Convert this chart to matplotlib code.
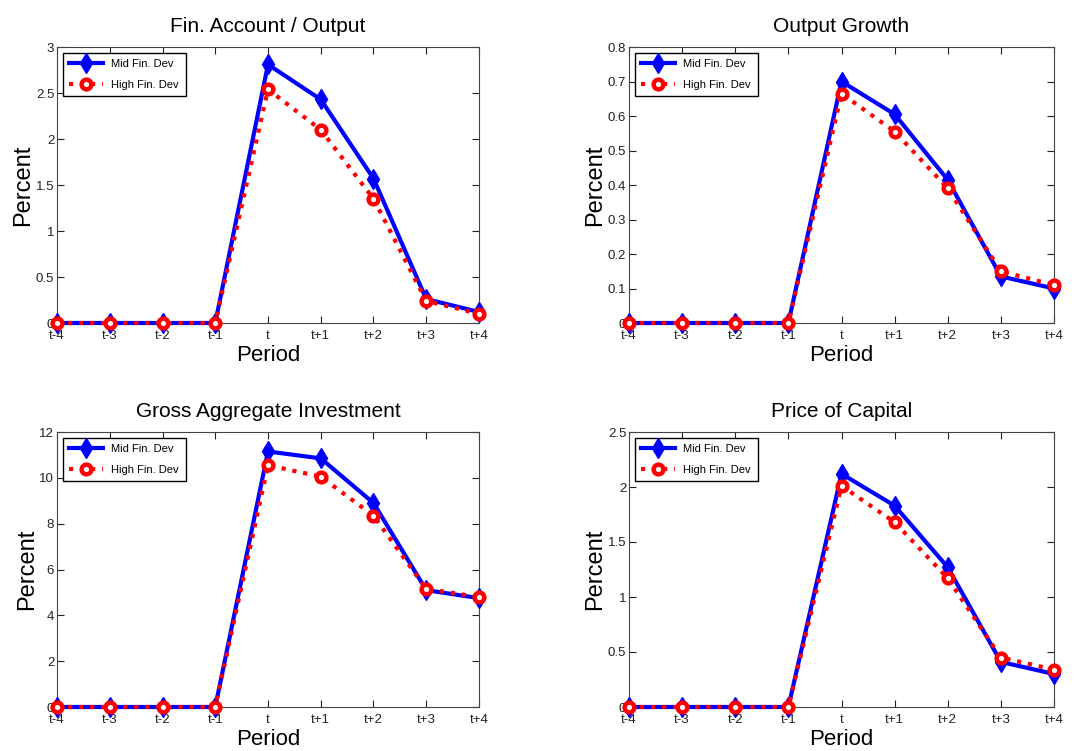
import matplotlib
matplotlib.use('Agg')
import matplotlib.pyplot as plt

plt.rcParams['font.family'] = ['Liberation Sans', 'DejaVu Sans']

periods = ['t-4', 't-3', 't-2', 't-1', 't', 't+1', 't+2', 't+3', 't+4']

# impulse responses for each panel: mid vs high financial development
finacc_mid = [0, 0, 0, 0, 2.81, 2.43, 1.57, 0.26, 0.12]
finacc_high = [0, 0, 0, 0, 2.54, 2.10, 1.35, 0.24, 0.10]
growth_mid = [0, 0, 0, 0, 0.70, 0.605, 0.415, 0.135, 0.10]
growth_high = [0, 0, 0, 0, 0.665, 0.555, 0.39, 0.15, 0.11]
invest_mid = [0, 0, 0, 0, 11.15, 10.85, 8.9, 5.1, 4.75]
invest_high = [0, 0, 0, 0, 10.55, 10.05, 8.35, 5.15, 4.8]
price_mid = [0, 0, 0, 0, 2.12, 1.83, 1.27, 0.41, 0.30]
price_high = [0, 0, 0, 0, 2.01, 1.68, 1.17, 0.45, 0.34]

titles = ['Fin. Account / Output', 'Output Growth',
          'Gross Aggregate Investment', 'Price of Capital']
mids = [finacc_mid, growth_mid, invest_mid, price_mid]
highs = [finacc_high, growth_high, invest_high, price_high]
yticks = [[0, 0.5, 1, 1.5, 2, 2.5, 3],
          [0, 0.1, 0.2, 0.3, 0.4, 0.5, 0.6, 0.7, 0.8],
          [0, 2, 4, 6, 8, 10, 12],
          [0, 0.5, 1, 1.5, 2, 2.5]]
yticklabels = [['0', '0.5', '1', '1.5', '2', '2.5', '3'],
               ['0', '0.1', '0.2', '0.3', '0.4', '0.5', '0.6', '0.7', '0.8'],
               ['0', '2', '4', '6', '8', '10', '12'],
               ['0', '0.5', '1', '1.5', '2', '2.5']]

W, H = 1076, 751
fig = plt.figure(figsize=(W / 100, H / 100), dpi=100)

# axes boxes in pixels: left, top, right, bottom
boxes = [(57, 47, 479, 323), (629, 47, 1054, 323),
         (57, 432, 479, 707), (629, 432, 1054, 707)]

x = list(range(len(periods)))
for i in range(4):
    l, t, r, b = boxes[i]
    ax = fig.add_axes([l / W, 1 - b / H, (r - l) / W, (b - t) / H])
    ax.plot(x, mids[i], color='blue', lw=3, marker='d', ms=10,
            label='Mid Fin. Dev', zorder=3, clip_on=False)
    ax.plot(x, highs[i], color='red', lw=3, ls=':', marker='o', ms=7,
            mfc='white', mec='red', mew=3.2, label='High Fin. Dev', zorder=4,
            clip_on=False)
    ax.set_xlim(0, len(periods) - 1)
    ax.set_ylim(yticks[i][0], yticks[i][-1])
    ax.set_xticks(x)
    ax.set_xticklabels(periods)
    ax.set_yticks(yticks[i])
    ax.set_yticklabels(yticklabels[i])
    ax.tick_params(direction='in', top=True, right=True, labelsize=9.5,
                   length=5, width=0.8, pad=2, colors='#222222')
    ax.tick_params(axis='x', pad=5)
    for s in ax.spines.values():
        s.set_color('#444444')
        s.set_linewidth(0.8)
    ax.set_title(titles[i], fontsize=15, pad=11)
    ax.set_xlabel('Period', fontsize=16, labelpad=2)
    ax.set_ylabel('Percent', fontsize=17, labelpad=1)
    leg = ax.legend(loc='upper left', fontsize=8, fancybox=False,
                    edgecolor='black', framealpha=1, handlelength=3,
                    borderpad=0.6, labelspacing=0.95)
    leg.get_frame().set_linewidth(1.0)

fig.savefig('out.png', dpi=100)
